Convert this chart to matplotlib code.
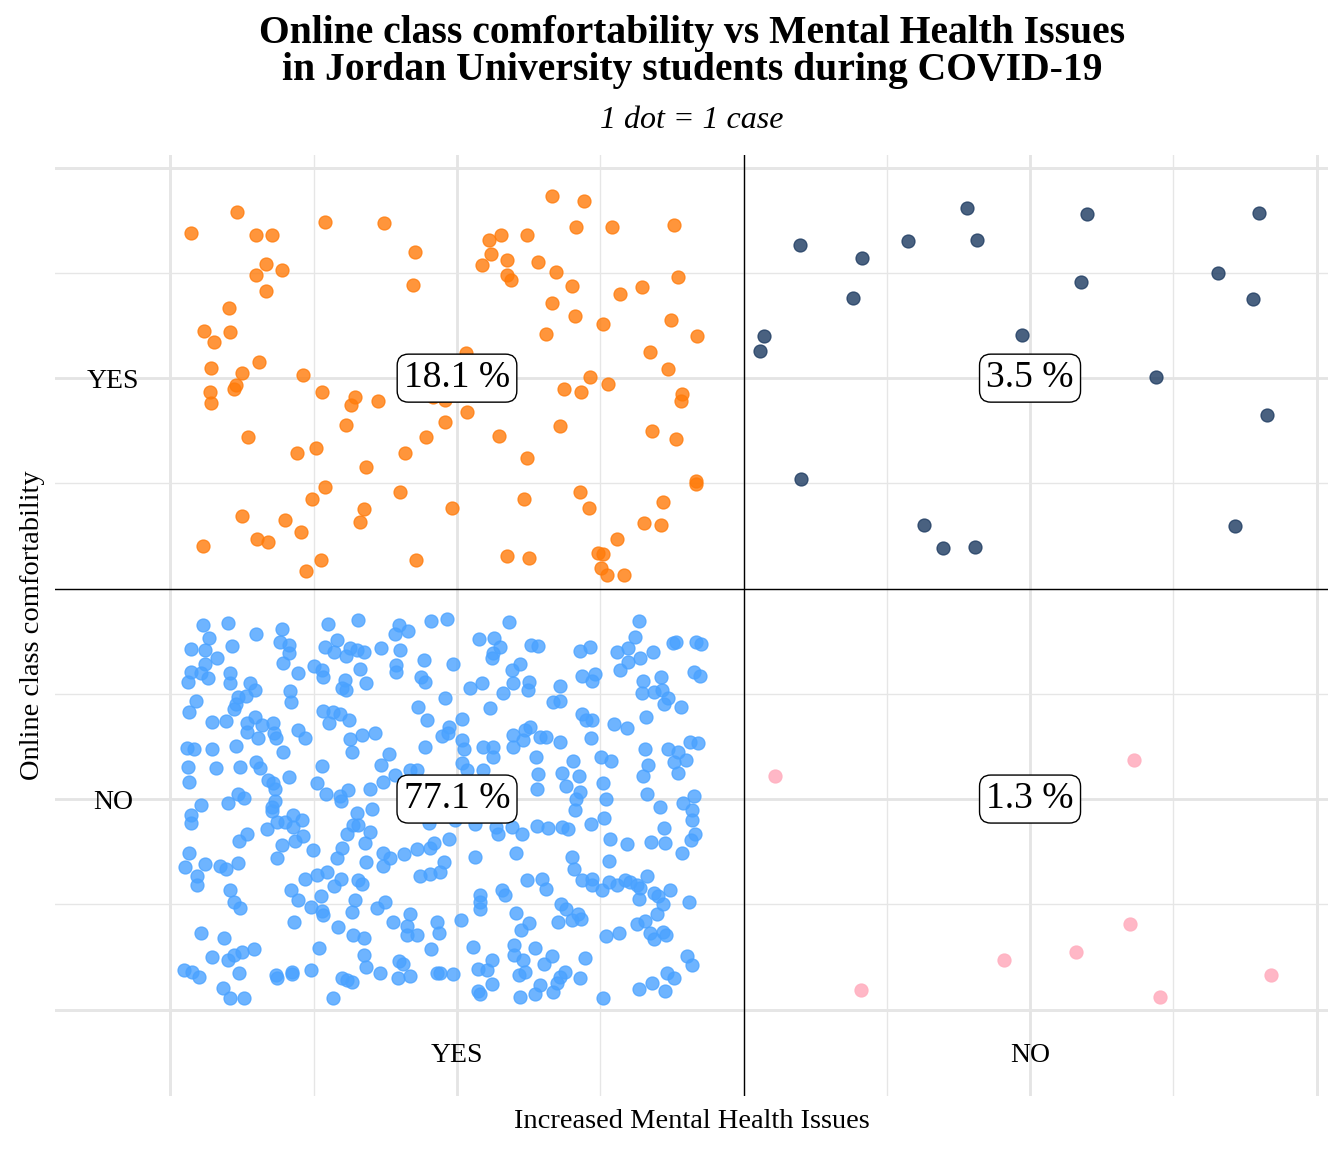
import numpy as np
import matplotlib.pyplot as plt

plt.rcParams['font.family'] = ['Liberation Serif', 'DejaVu Serif']

# category positions on both axes
x_cats = ['YES', 'NO']          # Increased Mental Health Issues
x_pos = [1, 2]
y_cats = ['YES', 'NO']          # Online class comfortability
y_pos = [2, 1]

# percentage of students in each cell
cell_x = [1, 2, 1, 2]
cell_y = [2, 2, 1, 1]
cell_pct = [18.1, 3.5, 77.1, 1.3]

# jittered cases, one dot per student
# comfortable = YES, mental issues = YES
cases_yes_yes = [
    (0.616, 2.394), (0.535, 2.344), (0.650, 2.340), (0.678, 2.339), (0.769, 2.370),
    (0.666, 2.270), (0.694, 2.258), (0.650, 2.244), (0.667, 2.207), (0.602, 2.167),
    (0.559, 2.112), (0.604, 2.110), (0.576, 2.085), (0.571, 2.025), (0.624, 2.013),
    (0.655, 2.038), (0.731, 2.008), (0.614, 1.984), (0.611, 1.974), (0.569, 1.966),
    (0.570, 1.942), (0.765, 1.968), (0.822, 1.956), (0.815, 1.937), (0.806, 1.889),
    (0.635, 1.859), (0.720, 1.821), (0.754, 1.834), (0.770, 1.741), (0.747, 1.712),
    (0.624, 1.673), (0.700, 1.663), (0.728, 1.635), (0.651, 1.619), (0.670, 1.611),
    (0.557, 1.602), (0.762, 1.567), (0.737, 1.542),
    (0.873, 2.369), (0.927, 2.300), (0.924, 2.221), (1.056, 2.328), (1.076, 2.339),
    (1.122, 2.340), (1.060, 2.295), (1.088, 2.280), (1.043, 2.268), (1.088, 2.245),
    (1.094, 2.234), (1.016, 2.060), (0.958, 1.956), (0.979, 1.949), (0.862, 1.945),
    (1.017, 1.919), (0.979, 1.896), (0.946, 1.859), (1.074, 1.862), (0.909, 1.823),
    (1.123, 1.811), (0.842, 1.789), (0.901, 1.730), (1.117, 1.712), (0.838, 1.689),
    (0.831, 1.659), (0.992, 1.692), (0.929, 1.567), (1.087, 1.578), (1.126, 1.573),
    (1.165, 2.433), (1.222, 2.422), (1.207, 2.359), (1.271, 2.360), (1.379, 2.363),
    (1.142, 2.276), (1.173, 2.251), (1.200, 2.220), (1.166, 2.179), (1.206, 2.148),
    (1.255, 2.128), (1.155, 2.104), (1.285, 2.199), (1.322, 2.216), (1.386, 2.241),
    (1.374, 2.139), (1.418, 2.101), (1.337, 2.063), (1.369, 2.021), (1.232, 2.002),
    (1.264, 1.986), (1.186, 1.975), (1.216, 1.967), (1.393, 1.963), (1.391, 1.946),
    (1.180, 1.887), (1.340, 1.874), (1.382, 1.856), (1.417, 1.755), (1.417, 1.748),
    (1.215, 1.729), (1.231, 1.692), (1.359, 1.705), (1.326, 1.655), (1.356, 1.652),
    (1.279, 1.618), (1.246, 1.584), (1.254, 1.582), (1.251, 1.549), (1.261, 1.532),
    (1.291, 1.532),
]

# comfortable = YES, mental issues = NO
cases_yes_no = [
    (1.890, 2.404), (2.099, 2.390), (2.400, 2.392), (1.599, 2.316), (1.787, 2.325),
    (1.908, 2.328), (1.707, 2.285), (2.328, 2.249), (1.691, 2.190), (2.089, 2.228),
    (2.389, 2.188), (1.536, 2.100), (1.529, 2.064), (1.986, 2.102), (2.220, 2.002),
    (2.414, 1.912), (1.600, 1.760), (1.815, 1.651), (1.848, 1.596), (1.904, 1.599),
    (2.358, 1.648),
]

# comfortable = NO, mental issues = YES
cases_no_yes = [
    (0.556, 1.413), (0.600, 1.419), (0.649, 1.392), (0.695, 1.405), (0.775, 1.416),
    (0.567, 1.382), (0.536, 1.356), (0.560, 1.354), (0.582, 1.336), (0.608, 1.363),
    (0.691, 1.374), (0.707, 1.367), (0.706, 1.346), (0.697, 1.324), (0.560, 1.322),
    (0.770, 1.362), (0.790, 1.379), (0.785, 1.350), (0.807, 1.340), (0.813, 1.358),
    (0.536, 1.302), (0.554, 1.299), (0.566, 1.288), (0.531, 1.277), (0.604, 1.299),
    (0.603, 1.276), (0.639, 1.276), (0.648, 1.260), (0.723, 1.300), (0.751, 1.316),
    (0.764, 1.306), (0.767, 1.291), (0.708, 1.257), (0.710, 1.230), (0.805, 1.284),
    (0.799, 1.263), (0.807, 1.260), (0.618, 1.242), (0.632, 1.245), (0.615, 1.227),
    (0.610, 1.215), (0.545, 1.233), (0.533, 1.206), (0.572, 1.182), (0.596, 1.186),
    (0.634, 1.181), (0.648, 1.196), (0.659, 1.176), (0.679, 1.181), (0.633, 1.160),
    (0.652, 1.144), (0.681, 1.156), (0.684, 1.146), (0.723, 1.165), (0.735, 1.146),
    (0.766, 1.210), (0.784, 1.207), (0.795, 1.203), (0.777, 1.181), (0.812, 1.189),
    (0.529, 1.122), (0.541, 1.120), (0.573, 1.118), (0.615, 1.127), (0.697, 1.111),
    (0.813, 1.142), (0.816, 1.112), (0.531, 1.077), (0.579, 1.073), (0.621, 1.075),
    (0.650, 1.089), (0.657, 1.073), (0.764, 1.078), (0.532, 1.041), (0.671, 1.045),
    (0.679, 1.039), (0.682, 1.025), (0.707, 1.053), (0.755, 1.037), (0.810, 1.021),
    (0.617, 1.013), (0.628, 1.002), (0.553, 0.987), (0.601, 0.990), (0.682, 0.996),
    (0.677, 0.982), (0.771, 1.013), (0.796, 1.007), (0.797, 0.996),
    (0.828, 1.425), (0.898, 1.413), (0.892, 1.393), (0.914, 1.400), (0.954, 1.423),
    (0.982, 1.428), (1.091, 1.421), (0.825, 1.354), (0.837, 1.350), (0.868, 1.359),
    (0.901, 1.355), (1.039, 1.380), (1.064, 1.383), (1.075, 1.362), (1.062, 1.348),
    (1.061, 1.334), (0.830, 1.310), (0.894, 1.318), (0.893, 1.301), (0.943, 1.330),
    (0.993, 1.322), (1.110, 1.322), (1.096, 1.306), (0.842, 1.275), (0.937, 1.290),
    (0.944, 1.279), (1.023, 1.265), (1.044, 1.275), (1.097, 1.275), (1.081, 1.251),
    (1.125, 1.279), (1.124, 1.259), (0.979, 1.239), (0.932, 1.219), (1.058, 1.217),
    (0.948, 1.189), (1.009, 1.191), (0.986, 1.172), (0.973, 1.150), (0.985, 1.156),
    (0.834, 1.152), (0.857, 1.158), (1.008, 1.140), (1.097, 1.152), (1.119, 1.164),
    (1.128, 1.172), (1.116, 1.140), (0.944, 1.124), (1.012, 1.118), (1.046, 1.124),
    (1.062, 1.124), (1.062, 1.100), (1.097, 1.124), (0.881, 1.107), (0.867, 1.081),
    (1.008, 1.085), (1.017, 1.069), (1.046, 1.070), (0.918, 1.069), (0.930, 1.070),
    (0.892, 1.057), (0.870, 1.041), (0.848, 1.024),
    (1.317, 1.424), (1.311, 1.384), (1.298, 1.358), (1.280, 1.350), (1.319, 1.334),
    (1.299, 1.326), (1.285, 1.306), (1.342, 1.350), (1.377, 1.370), (1.382, 1.374),
    (1.417, 1.374), (1.425, 1.368), (1.215, 1.351), (1.232, 1.362), (1.130, 1.366),
    (1.142, 1.363), (1.219, 1.292), (1.241, 1.297), (1.235, 1.280), (1.179, 1.269),
    (1.413, 1.302), (1.424, 1.293), (1.325, 1.280), (1.356, 1.291), (1.322, 1.253),
    (1.344, 1.255), (1.357, 1.259), (1.369, 1.241), (1.362, 1.227), (1.391, 1.219),
    (1.167, 1.231), (1.180, 1.233), (1.218, 1.202), (1.225, 1.188), (1.235, 1.188),
    (1.274, 1.178), (1.297, 1.168), (1.330, 1.195), (1.145, 1.148), (1.156, 1.148),
    (1.180, 1.136), (1.233, 1.144), (1.328, 1.120), (1.369, 1.120), (1.386, 1.112),
    (1.406, 1.136), (1.421, 1.132), (1.378, 1.089), (1.400, 1.093), (1.386, 1.063),
    (1.334, 1.081), (1.325, 1.055), (1.138, 1.100), (1.251, 1.100), (1.268, 1.090),
    (1.202, 1.091), (1.142, 1.059), (1.184, 1.063), (1.213, 1.054), (1.191, 1.031),
    (1.140, 1.024), (1.255, 1.039), (1.215, 1.017), (1.208, 1.000), (1.260, 1.000),
    (1.331, 1.013), (1.355, 0.982), (1.394, 0.991), (1.414, 1.008),
    (0.535, 0.962), (0.535, 0.942), (0.677, 0.971), (0.685, 0.946), (0.700, 0.946),
    (0.714, 0.962), (0.729, 0.950), (0.714, 0.934), (0.731, 0.912), (0.717, 0.900),
    (0.668, 0.929), (0.633, 0.918), (0.620, 0.901), (0.694, 0.891), (0.685, 0.859),
    (0.748, 0.879), (0.808, 0.916), (0.800, 0.884), (0.791, 0.861), (0.532, 0.871),
    (0.526, 0.838), (0.561, 0.845), (0.586, 0.842), (0.597, 0.833), (0.617, 0.847),
    (0.547, 0.817), (0.547, 0.797), (0.603, 0.785), (0.611, 0.756), (0.621, 0.740),
    (0.710, 0.785), (0.722, 0.760), (0.735, 0.810), (0.755, 0.819), (0.773, 0.827),
    (0.798, 0.811), (0.786, 0.794), (0.762, 0.769), (0.745, 0.744), (0.765, 0.734),
    (0.767, 0.724), (0.716, 0.707), (0.792, 0.695), (0.554, 0.682), (0.594, 0.670),
    (0.573, 0.625), (0.601, 0.617), (0.611, 0.629), (0.624, 0.637), (0.646, 0.643),
    (0.760, 0.647), (0.524, 0.594), (0.537, 0.590), (0.550, 0.578), (0.620, 0.587),
    (0.684, 0.583), (0.686, 0.575), (0.712, 0.590), (0.712, 0.584), (0.746, 0.593),
    (0.799, 0.574), (0.808, 0.570), (0.591, 0.552), (0.603, 0.528), (0.629, 0.528),
    (0.783, 0.528),
    (0.826, 0.966), (0.851, 0.976), (0.819, 0.938), (0.828, 0.938), (0.849, 0.922),
    (0.839, 0.895), (0.841, 0.851), (0.871, 0.871), (0.883, 0.861), (0.871, 0.842),
    (0.908, 0.869), (0.931, 0.881), (0.953, 0.883), (0.959, 0.895), (0.986, 0.906),
    (0.978, 0.851), (0.970, 0.826), (0.953, 0.821), (0.936, 0.817), (0.827, 0.807),
    (0.834, 0.798), (0.822, 0.760), (0.816, 0.732), (0.860, 0.742), (0.874, 0.756),
    (0.888, 0.707), (0.918, 0.726), (0.913, 0.699), (0.912, 0.677), (0.930, 0.677),
    (0.965, 0.707), (0.968, 0.682), (0.955, 0.644), (0.819, 0.678), (0.837, 0.669),
    (0.837, 0.629), (0.842, 0.600), (0.866, 0.586), (0.897, 0.575), (0.918, 0.580),
    (0.899, 0.615), (0.906, 0.607), (0.965, 0.586), (0.970, 0.586), (0.993, 0.584),
    (0.816, 0.566), (1.007, 0.712), (1.032, 0.863), (1.103, 0.872), (1.114, 0.916),
    (1.072, 0.918), (1.096, 0.934), (1.068, 0.934), (1.032, 0.940), (0.997, 0.950),
    (0.951, 0.942), (1.122, 0.807), (1.040, 0.773), (1.040, 0.756), (1.040, 0.738),
    (1.078, 0.784), (1.084, 0.773), (1.103, 0.730), (1.125, 0.705), (1.111, 0.689),
    (1.099, 0.653), (1.099, 0.629), (1.116, 0.617), (1.109, 0.582), (1.119, 0.590),
    (1.028, 0.649), (1.061, 0.617), (1.037, 0.596), (1.052, 0.595), (1.061, 0.560),
    (1.037, 0.545), (1.040, 0.538), (1.110, 0.530),
    (1.206, 0.974), (1.140, 0.937), (1.158, 0.932), (1.183, 0.934), (1.193, 0.930),
    (1.233, 0.941), (1.257, 0.956), (1.267, 0.906), (1.297, 0.893), (1.338, 0.897),
    (1.363, 0.895), (1.361, 0.932), (1.410, 0.974), (1.410, 0.950), (1.416, 0.916),
    (1.408, 0.902), (1.392, 0.872), (1.200, 0.863), (1.204, 0.835), (1.266, 0.853),
    (1.149, 0.810), (1.156, 0.786), (1.218, 0.807), (1.235, 0.811), (1.235, 0.796),
    (1.253, 0.785), (1.265, 0.802), (1.279, 0.796), (1.293, 0.807), (1.302, 0.802),
    (1.314, 0.796), (1.320, 0.788), (1.332, 0.818), (1.343, 0.778), (1.350, 0.770),
    (1.372, 0.784), (1.318, 0.762), (1.359, 0.750), (1.349, 0.727), (1.404, 0.756),
    (1.182, 0.750), (1.191, 0.739), (1.177, 0.707), (1.200, 0.712), (1.212, 0.726),
    (1.216, 0.716), (1.260, 0.674), (1.282, 0.682), (1.314, 0.702), (1.328, 0.710),
    (1.337, 0.681), (1.344, 0.667), (1.360, 0.683), (1.365, 0.678), (1.136, 0.647),
    (1.165, 0.628), (1.152, 0.609), (1.223, 0.623), (1.401, 0.628), (1.410, 0.606),
    (1.189, 0.590), (1.180, 0.578), (1.215, 0.575), (1.144, 0.558), (1.136, 0.538),
    (1.167, 0.542), (1.174, 0.562), (1.317, 0.548), (1.341, 0.564), (1.366, 0.586),
    (1.379, 0.574), (1.363, 0.544), (1.254, 0.528),
]

# comfortable = NO, mental issues = NO
cases_no_no = [
    (1.555, 1.055), (2.181, 1.093), (2.175, 0.703), (2.080, 0.637), (1.955, 0.618),
    (1.705, 0.546), (2.227, 0.530), (2.421, 0.582),
]

groups = [
    (cases_no_yes, '#4aa2ff', 0.8),
    (cases_yes_yes, '#ff7b0a', 0.8),
    (cases_yes_no, '#1c3a60', 0.8),
    (cases_no_no, '#ffb0c0', 0.9),
]

fig = plt.figure(figsize=(13.44, 11.52), dpi=100)
ax = fig.add_axes([0.0409, 0.0486, 0.9472, 0.8168])

for cases, col, a in groups:
    pts = np.array(cases)
    ax.scatter(pts[:, 0], pts[:, 1], s=88, color=col, alpha=a,
               edgecolors=col, linewidths=0.9, zorder=3)

ax.set_xlim(0.2984, 2.520)
ax.set_ylim(0.2945, 2.530)

# grid: thick lines at half steps, thin at quarter steps
ax.set_xticks(x_pos, x_cats)
ax.set_yticks(y_pos, y_cats)
ax.set_xticks(np.arange(0.5, 2.6, 0.25), minor=True)
ax.set_yticks(np.arange(0.5, 2.6, 0.25), minor=True)
ax.grid(which='minor', color='#e6e6e6', linewidth=1.0, zorder=0)
ax.grid(which='major', color='#e4e4e4', linewidth=2.0, zorder=0)
for v in [0.5, 2.5]:
    ax.axvline(v, color='#e4e4e4', linewidth=2.0, zorder=0)
    ax.axhline(v, color='#e4e4e4', linewidth=2.0, zorder=0)
ax.set_axisbelow(True)

ax.axvline(1.5, color='black', linewidth=1.0, zorder=2)
ax.axhline(1.5, color='black', linewidth=1.0, zorder=2)

for s in ax.spines.values():
    s.set_visible(False)
ax.tick_params(which='both', length=0)
ax.tick_params(axis='x', pad=-29, labelsize=20)
ax.tick_params(axis='y', pad=-42, labelsize=20)
for lab in ax.get_xticklabels():
    lab.set_va('center')
for lab in ax.get_yticklabels():
    lab.set_ha('center')

for cx, cy, p in zip(cell_x, cell_y, cell_pct):
    ax.text(cx, cy, f'{p} %', ha='center', va='center', fontsize=27, zorder=5,
            bbox=dict(boxstyle='round,pad=0.18,rounding_size=0.3',
                      facecolor='white', edgecolor='black', linewidth=1.0))

ax.set_xlabel('Increased Mental Health Issues', fontsize=20.5)
ax.set_ylabel('Online class comfortability', fontsize=20.5)
ax.xaxis.label.set_va('center')
ax.yaxis.label.set_va('center')
ax.xaxis.set_label_coords(0.5, -0.0276)
ax.yaxis.set_label_coords(-0.0173, 0.5)

fig.text(0.5149, 1 - 52 / 1152,
         'Online class comfortability vs Mental Health Issues\n'
         'in Jordan University students during COVID-19',
         ha='center', va='center', fontsize=28.5, fontweight='bold', linespacing=1.0)
fig.text(0.5149, 1 - 120 / 1152, '1 dot = 1 case', ha='center', va='center',
         fontsize=23, style='italic')

fig.savefig('out.png', dpi=100, facecolor='white')
